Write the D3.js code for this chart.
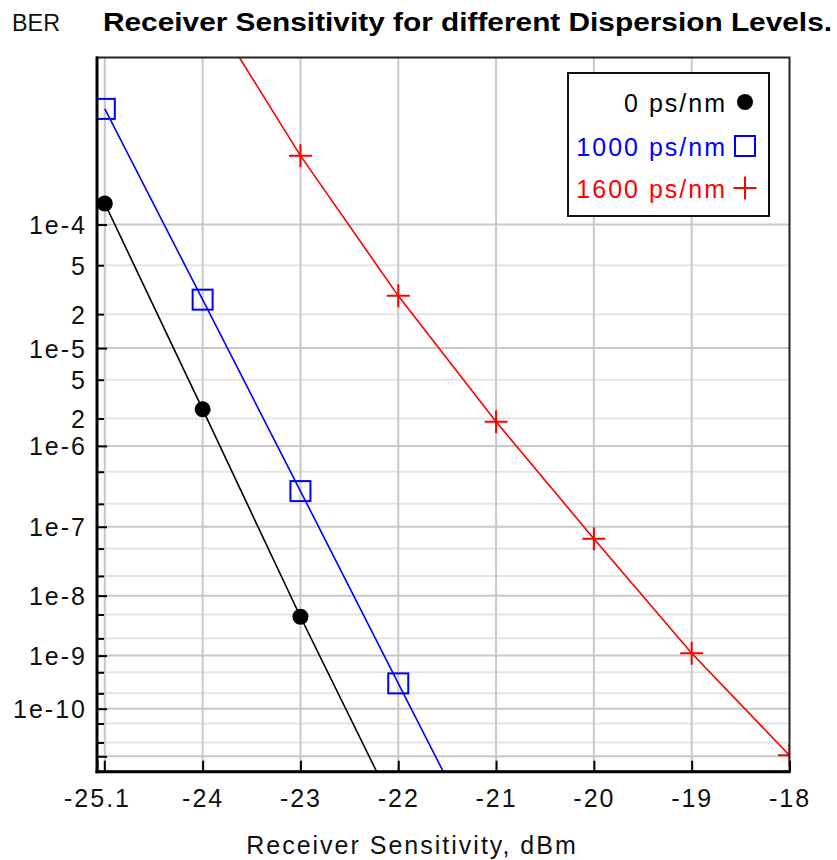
<!DOCTYPE html>
<html>
<head>
<meta charset="utf-8">
<script src="https://cdn.jsdelivr.net/npm/d3@7"></script>
<style>
  body { margin: 0; background: #fff; }
  text { font-family: "Liberation Sans", Arial, sans-serif; }
</style>
</head>
<body>
<main></main>
<script>
// data
const zeroX = [-25, -24, -23, -22];
const zeroBER = [1.4e-4, 2.5e-6, 4.6e-9, 4e-13];
const d1000X = [-25, -24, -23, -22, -21];
const d1000BER = [5.35e-4, 2.65e-5, 2.9e-7, 3.1e-10, 1e-14];
const d1600X = [-24, -23, -22, -21, -20, -19, -18];
const d1600BER = [1.9e-3, 2.85e-4, 2.85e-5, 1.85e-6, 6.85e-8, 1.1e-9, 1.05e-11];

const seriesNames = ["0 ps/nm", "1000 ps/nm", "1600 ps/nm"];
const seriesColors = ["#000000", "#0000ff", "#ff0000"];
const seriesMarkers = ["dot", "square", "plus"];

const xTickValues = [-25.08, -24, -23, -22, -21, -20, -19, -18];
const xGridValues = [-25, -24, -23, -22, -21, -20, -19];
const yTickValues = [1e-4, 5e-5, 2e-5, 1e-5, 5e-6, 2e-6, 1e-6, 5e-7, 2e-7, 1e-7,
  5e-8, 2e-8, 1e-8, 5e-9, 2e-9, 1e-9, 5e-10, 2e-10, 1e-10, 5e-11, 2e-11, 1e-11];
const yTickLabels = ["1e-4", "5", "2", "1e-5", "5", "2", "1e-6", "", "", "1e-7",
  "", "", "1e-8", "", "", "1e-9", "", "", "1e-10", "", "", ""];

const W = 837, H = 860;
const pLeft = 97, pRight = 789.5, pTop = 57.5, pBottom = 771.7;

// Q-scale for BER: y is linear in log10(Q), Q = -normInv(BER)
function normInv(p) {
  const a = [-3.969683028665376e+01, 2.209460984245205e+02, -2.759285104469687e+02, 1.383577518672690e+02, -3.066479806614716e+01, 2.506628277459239e+00];
  const b = [-5.447609879822406e+01, 1.615858368580409e+02, -1.556989798598866e+02, 6.680131188771972e+01, -1.328068155288572e+01];
  const c = [-7.784894002430293e-03, -3.223964580411365e-01, -2.400758277161838e+00, -2.549732539343734e+00, 4.374587496764355e+00, 2.938163982698783e+00];
  const d = [7.784695709041462e-03, 3.224671290700398e-01, 2.445134137142996e+00, 3.754408661907416e+00];
  const plow = 0.02425;
  let q, r;
  if (p < plow) {
    q = Math.sqrt(-2 * Math.log(p));
    return (((((c[0]*q+c[1])*q+c[2])*q+c[3])*q+c[4])*q+c[5]) / ((((d[0]*q+d[1])*q+d[2])*q+d[3])*q+1);
  }
  if (p <= 1 - plow) {
    q = p - 0.5; r = q * q;
    return (((((a[0]*r+a[1])*r+a[2])*r+a[3])*r+a[4])*r+a[5])*q / (((((b[0]*r+b[1])*r+b[2])*r+b[3])*r+b[4])*r+1);
  }
  q = Math.sqrt(-2 * Math.log(1 - p));
  return -(((((c[0]*q+c[1])*q+c[2])*q+c[3])*q+c[4])*q+c[5]) / ((((d[0]*q+d[1])*q+d[2])*q+d[3])*q+1);
}
const tq = ber => Math.log10(-normInv(ber));

const yTop = 1e-3, yBottom = 4.5e-12;
const yLin = d3.scaleLinear().domain([tq(yTop), tq(yBottom)]).range([pTop, pBottom]);
const y = v => yLin(tq(v));
y.copy = () => y;
y.range = () => yLin.range();
y.domain = () => [yTop, yBottom];

const x = d3.scaleLinear().domain([-25.08, -18]).range([pLeft, pRight]);

const isMajor = v => Math.abs(Math.log10(v) - Math.round(Math.log10(v))) < 1e-9;
const fmtX = d => d3.format(".1~f")(d).replace("\u2212", "-");

const svg = d3.select("main").append("svg")
  .attr("width", W)
  .attr("height", H);

// grid
const grid = svg.append("g");
grid.selectAll(".hgrid")
  .data(yTickValues)
  .enter().append("line")
  .attr("x1", pLeft).attr("x2", pRight)
  .attr("y1", d => y(d)).attr("y2", d => y(d))
  .attr("stroke", d => isMajor(d) ? "#c8c8c8" : "#e4e4e4")
  .attr("stroke-width", 2);
grid.selectAll(".vgrid")
  .data(xGridValues)
  .enter().append("line")
  .attr("x1", d => x(d)).attr("x2", d => x(d))
  .attr("y1", pTop).attr("y2", pBottom)
  .attr("stroke", "#c8c8c8")
  .attr("stroke-width", 2);

// clip
svg.append("clipPath").attr("id", "plotclip")
  .append("rect")
  .attr("x", pLeft).attr("y", pTop)
  .attr("width", pRight - pLeft).attr("height", pBottom - pTop);

const series = [
  { xs: zeroX, ys: zeroBER },
  { xs: d1000X, ys: d1000BER },
  { xs: d1600X, ys: d1600BER }
].map((s, i) => ({
  name: seriesNames[i],
  color: seriesColors[i],
  marker: seriesMarkers[i],
  points: s.xs.map((v, j) => [v, s.ys[j]])
}));

const line = d3.line().x(d => x(d[0])).y(d => y(d[1]));

function drawMarker(g, type, color) {
  if (type === "dot") {
    g.append("circle").attr("r", 8).attr("fill", color);
  } else if (type === "square") {
    g.append("rect").attr("x", -10).attr("y", -10).attr("width", 20).attr("height", 20)
      .attr("fill", "none").attr("stroke", color).attr("stroke-width", 2);
  } else {
    g.append("path").attr("d", "M-11.5,0H11.5M0,-11.5V11.5")
      .attr("stroke", color).attr("stroke-width", 2);
  }
}

const plot = svg.append("g").attr("clip-path", "url(#plotclip)");
series.forEach(s => {
  plot.append("path")
    .datum(s.points)
    .attr("d", line)
    .attr("fill", "none")
    .attr("stroke", s.color)
    .attr("stroke-width", 1.6);
  plot.selectAll(null)
    .data(s.points)
    .enter().append("g")
    .attr("transform", d => `translate(${x(d[0])},${y(d[1])})`)
    .each(function() { drawMarker(d3.select(this), s.marker, s.color); });
});

// frame
svg.append("rect")
  .attr("x", pLeft).attr("y", pTop)
  .attr("width", pRight - pLeft).attr("height", pBottom - pTop)
  .attr("fill", "none").attr("stroke", "#222").attr("stroke-width", 2);
svg.append("line").attr("x1", pLeft).attr("x2", pLeft).attr("y1", pTop - 1).attr("y2", pBottom + 1.5)
  .attr("stroke", "#000").attr("stroke-width", 3);
svg.append("line").attr("x1", pLeft - 1.5).attr("x2", pRight + 1).attr("y1", pBottom).attr("y2", pBottom)
  .attr("stroke", "#000").attr("stroke-width", 3);

// y axis
const yAxis = svg.append("g")
  .attr("transform", `translate(${pLeft},0)`)
  .call(d3.axisLeft(y)
    .tickValues(yTickValues)
    .tickFormat((d, i) => yTickLabels[i])
    .tickSizeInner(-7)
    .tickSizeOuter(0));
yAxis.select(".domain").remove();
yAxis.selectAll(".tick line")
  .attr("x2", d => isMajor(d) ? 10 : 7)
  .attr("stroke", "#000")
  .attr("stroke-width", 2);
yAxis.selectAll(".tick text")
  .attr("x", -10)
  .attr("dy", "0.36em")
  .attr("fill", "#111")
  .style("font-family", '"Liberation Sans", Arial, sans-serif')
  .style("font-size", "25px")
  .style("letter-spacing", "2px");

// x axis
const xAxis = svg.append("g")
  .attr("transform", `translate(0,${pBottom})`)
  .call(d3.axisBottom(x)
    .tickValues(xTickValues)
    .tickFormat(fmtX)
    .tickSizeInner(-11)
    .tickSizeOuter(0));
xAxis.select(".domain").remove();
xAxis.selectAll(".tick line")
  .attr("stroke", "#000")
  .attr("stroke-width", 2);
xAxis.selectAll(".tick text")
  .attr("y", 35)
  .attr("dy", 0)
  .attr("fill", "#111")
  .style("font-family", '"Liberation Sans", Arial, sans-serif')
  .style("font-size", "25px")
  .style("letter-spacing", "2px");
// tick mark at -25 as well
xAxis.append("line")
  .attr("x1", x(-25)).attr("x2", x(-25))
  .attr("y1", 0).attr("y2", -11)
  .attr("stroke", "#000").attr("stroke-width", 2);

// axis title
svg.append("text")
  .attr("x", 412)
  .attr("y", 854)
  .attr("text-anchor", "middle")
  .attr("fill", "#111")
  .style("font-size", "25px")
  .style("letter-spacing", "2px")
  .text("Receiver Sensitivity, dBm");

// titles
svg.append("text")
  .attr("x", 12)
  .attr("y", 31)
  .attr("fill", "#111")
  .attr("textLength", 48)
  .attr("lengthAdjust", "spacingAndGlyphs")
  .style("font-size", "23px")
  .text("BER");
svg.append("text")
  .attr("x", 103)
  .attr("y", 31)
  .attr("fill", "#000")
  .attr("textLength", 729)
  .attr("lengthAdjust", "spacingAndGlyphs")
  .style("font-size", "26px")
  .style("font-weight", "bold")
  .text("Receiver Sensitivity for different Dispersion Levels.");

// legend
const legend = svg.append("g");
legend.append("rect")
  .attr("x", 568).attr("y", 73)
  .attr("width", 201).attr("height", 143)
  .attr("fill", "#fff").attr("stroke", "#111").attr("stroke-width", 2);
const legendBaselines = [112, 156, 198];
series.forEach((s, i) => {
  legend.append("text")
    .attr("x", 727)
    .attr("y", legendBaselines[i])
    .attr("text-anchor", "end")
    .attr("fill", s.color)
    .style("font-size", "25px")
    .style("letter-spacing", "2px")
    .text(s.name);
  const g = legend.append("g")
    .attr("transform", `translate(745,${legendBaselines[i] - 10})`);
  drawMarker(g, s.marker, s.color);
});
</script>
</body>
</html>
